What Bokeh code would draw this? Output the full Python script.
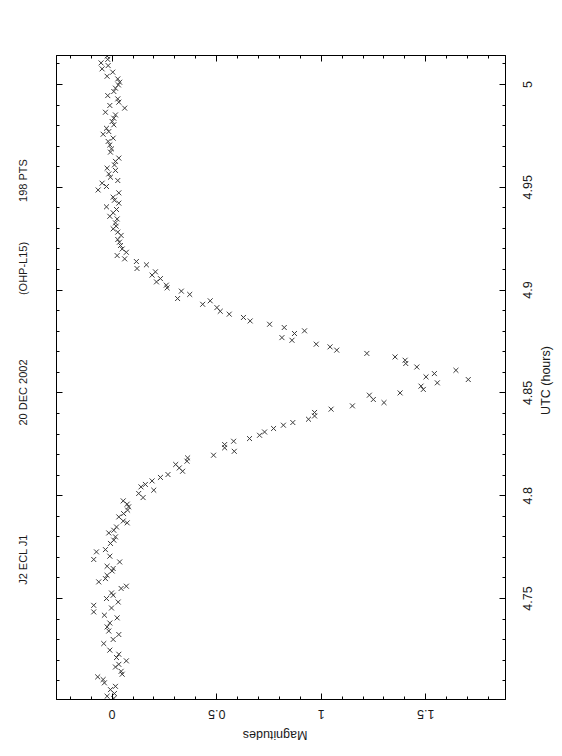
import math
from bokeh.plotting import figure
from bokeh.models import (Range1d, LinearAxis, SingleIntervalTicker, FixedTicker,
                          CustomJSTickFormatter)
from bokeh.embed import file_html
from bokeh.resources import INLINE

# ---- data: UTC (hours) and magnitude of each measured point ----
utc = [
    5.0138, 5.0122, 5.0105, 5.0092, 5.0076, 5.0060, 5.0040, 5.0027, 5.0011, 4.9998,
    4.9982, 4.9966, 4.9946, 4.9930, 4.9914, 4.9898, 4.9885, 4.9865, 4.9852, 4.9836,
    4.9820, 4.9804, 4.9787, 4.9771, 4.9758, 4.9739, 4.9723, 4.9706, 4.9687, 4.9671,
    4.9642, 4.9626, 4.9609, 4.9593, 4.9582, 4.9565, 4.9549, 4.9533, 4.9520, 4.9504,
    4.9487, 4.9473, 4.9452, 4.9437, 4.9423, 4.9405, 4.9392, 4.9376, 4.9359, 4.9346,
    4.9327, 4.9311, 4.9298, 4.9282, 4.9266, 4.9246, 4.9233, 4.9217, 4.9200, 4.9184,
    4.9168, 4.9152, 4.9139, 4.9123,
    4.9105, 4.9073, 4.9089, 4.9056, 4.9040, 4.9024, 4.9011, 4.8995, 4.8959, 4.8979,
    4.8931, 4.8948, 4.8915, 4.8897, 4.8883, 4.8867, 4.8850, 4.8834, 4.8818, 4.8802,
    4.8789, 4.8769, 4.8756, 4.8737, 4.8724, 4.8708, 4.8692, 4.8675, 4.8659, 4.8643,
    4.8626, 4.8594, 4.8610, 4.8578, 4.8565, 4.8549, 4.8533,
    4.8517, 4.8500, 4.8489, 4.8468, 4.8453, 4.8437, 4.8421, 4.8405, 4.8388, 4.8372,
    4.8356, 4.8343, 4.8327, 4.8310, 4.8294, 4.8278, 4.8265, 4.8249, 4.8233, 4.8216,
    4.8197, 4.8184, 4.8168, 4.8152, 4.8135, 4.8119, 4.8103, 4.8089, 4.8072, 4.8055,
    4.8043, 4.8027, 4.8011, 4.7991,
    4.7975, 4.7959, 4.7946, 4.7930, 4.7913, 4.7897, 4.7877, 4.7868, 4.7848, 4.7832,
    4.7819, 4.7800, 4.7784, 4.7768, 4.7738, 4.7727, 4.7706, 4.7690, 4.7678, 4.7657,
    4.7646, 4.7634, 4.7613, 4.7597, 4.7581, 4.7560, 4.7549, 4.7527, 4.7516, 4.7500,
    4.7483, 4.7467, 4.7454, 4.7435, 4.7419, 4.7406, 4.7381, 4.7362, 4.7342, 4.7325,
    4.7301, 4.7281, 4.7249, 4.7229, 4.7213, 4.7197, 4.7180, 4.7167, 4.7146, 4.7132,
    4.7119, 4.7106, 4.7090, 4.7073, 4.7057, 4.7038, 4.7025, 4.7014,
]

mag = [
    -0.024, -0.021, -0.053, -0.019, -0.048, 0.003, -0.024, 0.027, 0.036, 0.030,
    0.016, 0.008, -0.021, 0.027, 0.032, -0.011, 0.060, -0.032, 0.016, 0.008,
    0.000, 0.008, -0.027, -0.016, -0.043, 0.005, -0.019, -0.011, -0.003, -0.008,
    0.032, 0.016, 0.011, -0.024, 0.016, -0.016, -0.008, 0.027, -0.048, -0.027,
    -0.067, 0.032, 0.005, 0.011, 0.032, -0.027, 0.021, 0.005, -0.011, 0.024,
    0.016, 0.019, 0.005, 0.027, 0.043, 0.027, 0.035, 0.040, 0.048, 0.068,
    0.024, 0.060, 0.116, 0.164,
    0.119, 0.191, 0.207, 0.231, 0.212, 0.259, 0.263, 0.331, 0.313, 0.371,
    0.433, 0.469, 0.501, 0.517, 0.560, 0.628, 0.660, 0.753, 0.823, 0.920,
    0.872, 0.812, 0.860, 0.976, 1.042, 1.074, 1.218, 1.353, 1.401, 1.404,
    1.457, 1.541, 1.644, 1.501, 1.703, 1.555, 1.477,
    1.488, 1.377, 1.230, 1.249, 1.300, 1.149, 1.047, 0.968, 0.968, 0.939,
    0.864, 0.819, 0.772, 0.729, 0.705, 0.657, 0.581, 0.538, 0.538, 0.584,
    0.485, 0.361, 0.358, 0.304, 0.321, 0.337, 0.267, 0.231, 0.191, 0.159,
    0.138, 0.199, 0.127, 0.148,
    0.053, 0.072, 0.079, 0.074, 0.055, 0.032, 0.053, 0.072, 0.021, 0.008,
    -0.016, 0.016, 0.008, -0.008, -0.032, -0.075, -0.011, -0.088, 0.036, -0.024,
    0.005, 0.000, -0.024, -0.032, -0.064, 0.068, 0.043, -0.003, 0.005, -0.027,
    0.029, -0.088, -0.003, -0.088, -0.037, 0.024, -0.011, -0.024, -0.016, 0.032,
    0.005, -0.040, -0.011, 0.032, 0.021, 0.068, 0.032, 0.016, 0.043, 0.048,
    -0.069, -0.043, -0.037, 0.016, -0.008, 0.011, -0.024, 0.008,
]

# ---- ticks and texts ----
utc_ticks = [4.75, 4.80, 4.85, 4.90, 4.95, 5.00]
utc_tick_labels = ["4.75", "4.8", "4.85", "4.9", "4.95", "5"]
mag_ticks = [0.0, 0.5, 1.0, 1.5]
mag_tick_labels = ["0", "0.5", "1", "1.5"]
title_parts = ["J2 ECL J1", "20 DEC 2002", "(OHP-L15)", "198 PTS"]
x_label = "Magnitudes"
y_label = "UTC (hours)"

# ---- layout constants ----
W, H = 562, 756
BL, BR, BT, BB = 56, 56, 55, 57
X_LO, X_HI = -0.266, 1.881
Y_LO, Y_HI = 4.7009, 5.0141
FONT = "Liberation Sans"
INK = "#1a1a1a"
TICK_FS, LABEL_FS, TITLE_FS = 12.5, 12.5, 11.0
title_px_y = [559, 392, 268, 180]      # title part centres (page px from top)
xlabel_px_x = 275                      # "Magnitudes" centre (page px from left)
ylabel_px_y = 380                      # "UTC (hours)" centre (page px from top)

PPX = (W - BL - BR) / (X_HI - X_LO)    # pixels per magnitude
PPY = (H - BT - BB) / (Y_HI - Y_LO)    # pixels per hour

# approximate advance widths (1/1000 em) of Liberation Sans
ADV = {c: 556 for c in "0123456789"}
ADV.update({".": 278, " ": 278, "(": 333, ")": 333, "-": 333, "A": 667, "C": 722,
            "D": 722, "E": 667, "H": 722, "J": 500, "L": 556, "M": 833, "O": 778,
            "P": 667, "S": 667, "T": 611, "U": 722, "a": 556, "d": 556, "e": 556,
            "g": 556, "h": 556, "i": 222, "n": 556, "o": 556, "r": 333, "s": 500,
            "t": 278, "u": 556})

def text_len(s, fs):
    return sum(ADV.get(c, 556) for c in s) * fs / 1000.0

p = figure(width=W, height=H,
           x_range=Range1d(X_LO, X_HI), y_range=Range1d(Y_LO, Y_HI),
           output_backend="svg", toolbar_location=None,
           x_axis_location=None, y_axis_location=None,
           min_border_left=BL, min_border_right=BR,
           min_border_top=BT, min_border_bottom=BB)
p.grid.visible = False
p.outline_line_color = "black"
p.outline_line_width = 1
p.background_fill_color = "white"
p.border_fill_color = "white"

blank = CustomJSTickFormatter(code="return '';")

def tick_axis(interval, side):
    ax = LinearAxis(ticker=SingleIntervalTicker(interval=interval, num_minor_ticks=5),
                    formatter=blank)
    ax.axis_line_color = "black"
    ax.major_tick_line_color = "black"
    ax.minor_tick_line_color = "black"
    ax.major_tick_in = 6
    ax.major_tick_out = 0
    ax.minor_tick_in = 3
    ax.minor_tick_out = 0
    ax.major_label_standoff = 0
    ax.major_label_text_font_size = "0px"
    p.add_layout(ax, side)

def text_axis(side, anchors, labels, angle, standoff, fs):
    order = sorted(range(len(anchors)), key=lambda i: anchors[i])
    ticks = [anchors[i] for i in order]
    labs = [labels[i] for i in order]
    ax = LinearAxis(ticker=FixedTicker(ticks=ticks, minor_ticks=[]),
                    formatter=CustomJSTickFormatter(args=dict(labels=labs),
                                                    code="return labels[index] || '';"))
    ax.axis_line_color = None
    ax.major_tick_line_color = None
    ax.minor_tick_line_color = None
    ax.major_tick_in = 0
    ax.major_tick_out = 0
    ax.minor_tick_in = 0
    ax.minor_tick_out = 0
    ax.major_label_orientation = angle
    ax.major_label_standoff = standoff
    ax.major_label_text_font = FONT
    ax.major_label_text_font_size = "%gpx" % fs
    ax.major_label_text_color = INK
    p.add_layout(ax, side)

# tick marks on all four sides (pointing inwards)
tick_axis(0.5, "below")
tick_axis(0.5, "above")
tick_axis(0.05, "left")
tick_axis(0.05, "right")

# right: UTC labels read bottom-to-top; the text starts at its anchor
right_anchor = [t - 0.5 * text_len(s, TICK_FS) / PPY
                for t, s in zip(utc_ticks, utc_tick_labels)]
text_axis("right", right_anchor, utc_tick_labels, math.pi / 2, 22, TICK_FS)
ylab_c = Y_HI - (ylabel_px_y - BT) / PPY
text_axis("right", [ylab_c - 0.5 * text_len(y_label, LABEL_FS) / PPY], [y_label],
          math.pi / 2, 6, LABEL_FS)

# bottom: magnitude labels upside down; the text runs rightwards from its anchor
bot_anchor = [m - 0.5 * text_len(s, TICK_FS) / PPX
              for m, s in zip(mag_ticks, mag_tick_labels)]
text_axis("below", bot_anchor, mag_tick_labels, math.pi, 15, TICK_FS)
xlab_c = X_LO + (xlabel_px_x - BL) / PPX
text_axis("below", [xlab_c - 0.5 * text_len(x_label, LABEL_FS) / PPX], [x_label],
          math.pi, 8, LABEL_FS)

# left: the title, read bottom-to-top; the text ends at its anchor
title_c = [Y_HI - (py - BT) / PPY for py in title_px_y]
title_anchor = [c + 0.5 * text_len(s, TITLE_FS) / PPY
                for c, s in zip(title_c, title_parts)]
text_axis("left", title_anchor, title_parts, math.pi / 2, 33, TITLE_FS)

p.scatter(x=mag, y=utc, marker="x", size=7, line_color="#3a3a3a", line_width=1)

open("out.html", "w").write(file_html(p, INLINE))
